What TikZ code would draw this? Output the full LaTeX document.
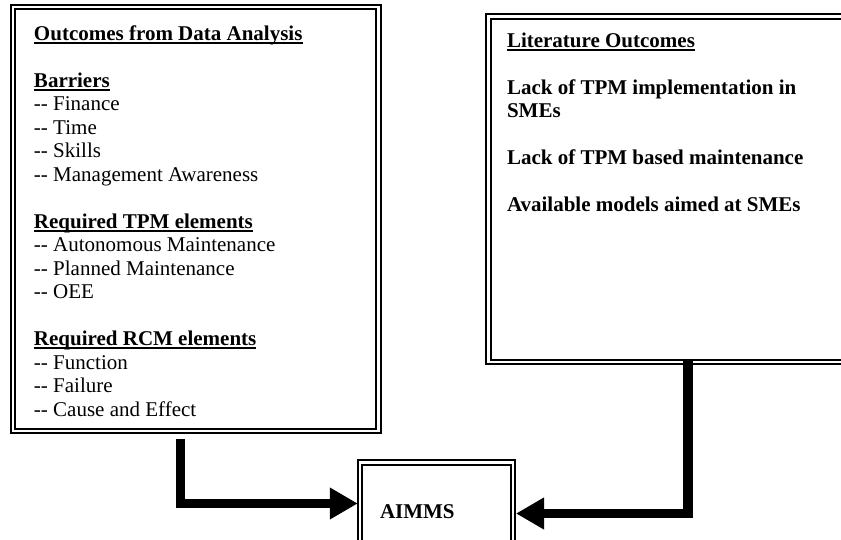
\documentclass[tikz,border=0pt]{standalone}
\usepackage{fontspec}
\setmainfont{Liberation Serif}
\usetikzlibrary{arrows.meta}
\newcommand{\hd}[1]{\setbox0\hbox{\bfseries #1}\rlap{\rule[-3.5pt]{\wd0}{1.6pt}}\box0}
\tikzset{
  dbox/.style={draw, double, double distance=2.3pt, line width=2pt, outer sep=0pt, inner sep=0pt, fill=none},
  txt/.style={anchor=base west, inner sep=0pt, outer sep=0pt, font=\fontsize{21}{23.5}\selectfont},
  btxt/.style={txt, font=\fontsize{21}{23.5}\selectfont\bfseries},
  bigarrow/.style={line width=9.5pt, -{Triangle[length=28pt,width=30pt]}}
}
\begin{document}
\begin{tikzpicture}[x=1pt,y=-1pt]
\useasboundingbox (0,0) rectangle (841,539);
\clip (0,0) rectangle (841,539);
% boxes
\node[dbox, minimum width=365.2pt, minimum height=423.4pt] (L) at (195.9,219) {};
\node[dbox, minimum width=411.5pt, minimum height=345.6pt] (R) at (694.25,189.4) {};
\node[dbox, minimum width=153.2pt, minimum height=107.5pt] (A) at (436.4,516.25) {};
% left text
\node[txt] (l1) at (34,40) {\hd{Outcomes from Data Analysis}};
\node[txt] (l2) at (34,87) {\hd{Barriers}};
\node[txt] (l3) at (34,110.5) {-{}- Finance};
\node[txt] (l4) at (34,134) {-{}- Time};
\node[txt] (l5) at (34,157.5) {-{}- Skills};
\node[txt] (l6) at (34,181) {-{}- Management Awareness};
\node[txt] (l7) at (34,228) {\hd{Required TPM elements}};
\node[txt] (l8) at (34,251.5) {-{}- Autonomous Maintenance};
\node[txt] (l9) at (34,275) {-{}- Planned Maintenance};
\node[txt] (l10) at (34,298.5) {-{}- OEE};
\node[txt] (l11) at (34,345.5) {\hd{Required RCM elements}};
\node[txt] (l12) at (34,369) {-{}- Function};
\node[txt] (l13) at (34,392.5) {-{}- Failure};
\node[txt] (l14) at (34,416) {-{}- Cause and Effect};
% right text
\node[txt] (r1) at (507,47.5) {\hd{Literature Outcomes}};
\node[btxt] (r2) at (507,94) {Lack of TPM implementation in};
\node[btxt] (r3) at (507,117.5) {SMEs};
\node[btxt] (r4) at (507,164.5) {Lack of TPM based maintenance};
\node[btxt] (r5) at (507,211.5) {Available models aimed at SMEs};
% AIMMS label
\node[btxt] (at) at (380,518) {AIMMS};
% connectors
\coordinate (la) at (180.5,439);
\coordinate (ly) at (0,503.5);
\coordinate (ra) at (688,361);
\coordinate (ry) at (0,513.5);
\draw[bigarrow, shorten >=2pt] (la) |- (A.west |- ly);
\draw[bigarrow, shorten >=3pt] (ra) |- (A.east |- ry);
\end{tikzpicture}
\end{document}
